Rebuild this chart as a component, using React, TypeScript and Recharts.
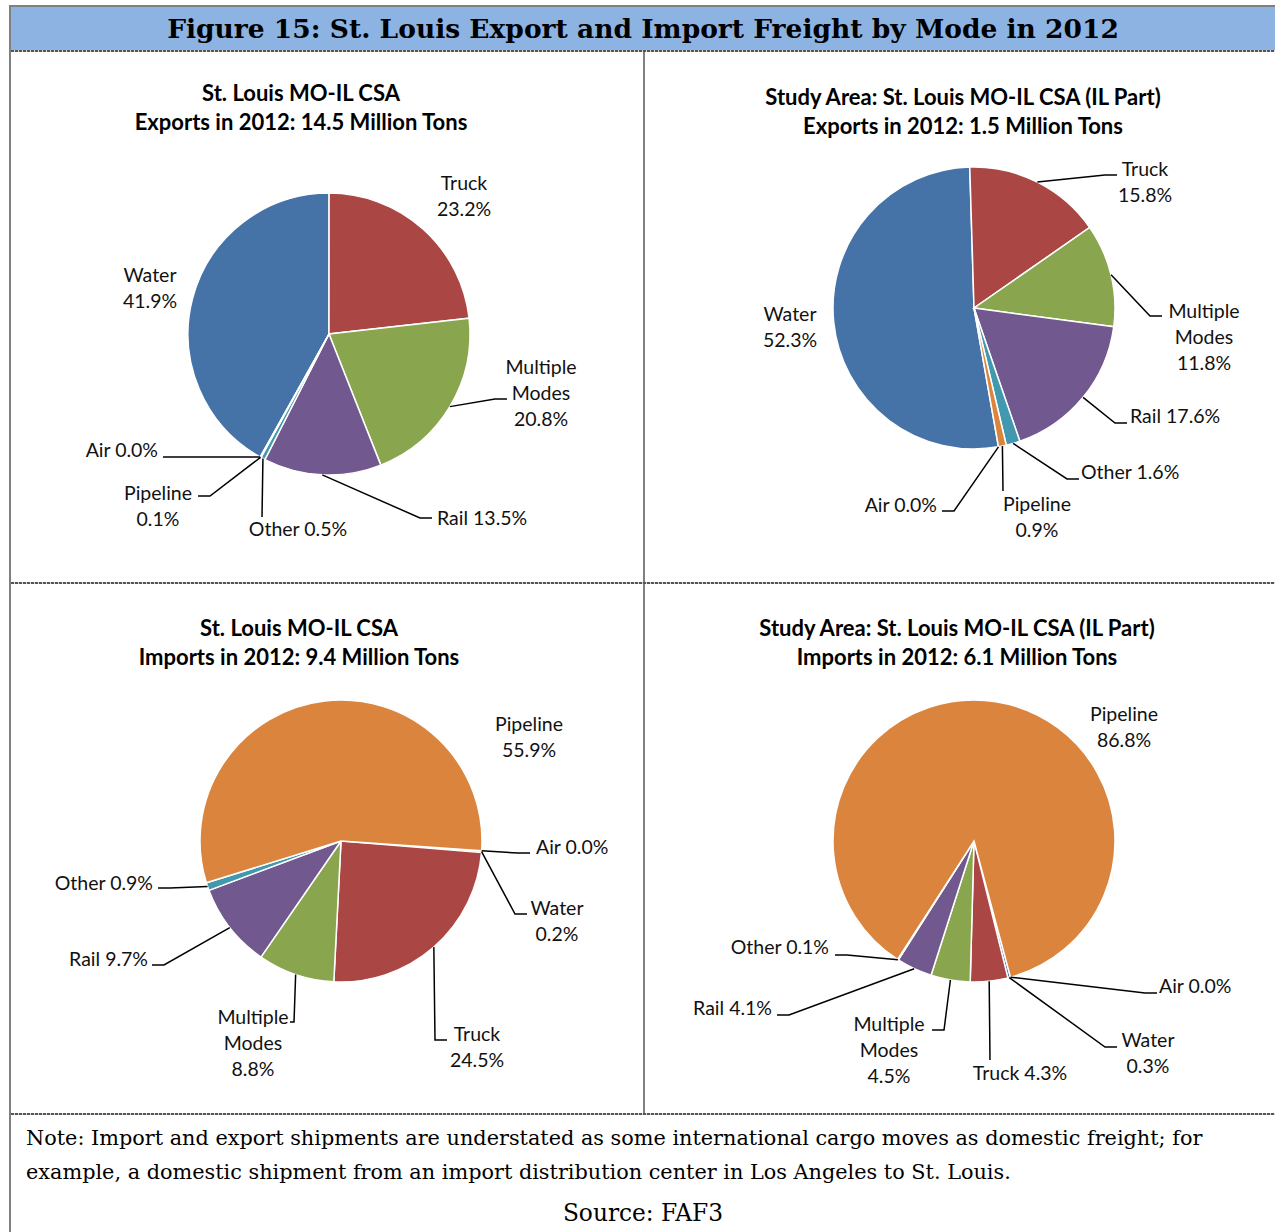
import React from "react";
import { PieChart, Pie, Cell } from "recharts";

const CATEGORIES = ["Water", "Truck", "Multiple Modes", "Rail", "Other", "Pipeline", "Air"];
const COLORS = ["#4572A7", "#AA4643", "#89A54E", "#71588F", "#4198AF", "#DB843D", "#93A9CF"];

const EXPORTS_CSA = [41.9, 23.2, 20.8, 13.5, 0.5, 0.1, 0.0];
const EXPORTS_IL = [52.3, 15.8, 11.8, 17.6, 1.6, 0.9, 0.0];
const IMPORTS_CSA = [0.2, 24.5, 8.8, 9.7, 0.9, 55.9, 0.0];
const IMPORTS_IL = [0.3, 4.3, 4.5, 4.1, 0.1, 86.8, 0.0];

const FIGURE_TITLE = "Figure 15: St. Louis Export and Import Freight by Mode in 2012";
const NOTE_LINES = [
  "Note: Import and export shipments are understated as some international cargo moves as domestic freight; for",
  "example, a domestic shipment from an import distribution center in Los Angeles to St. Louis.",
];
const SOURCE = "Source: FAF3";

const LABEL_FONT = "Lato, 'Open Sans', sans-serif";
const SERIF = "'DejaVu Serif', 'Liberation Serif', serif";
const RAD = Math.PI / 180;

// label placement, offsets from the pie centre (Excel labels were dragged by hand)
type LabelPos = {
  dx: number;
  dy: number;
  anchor: "start" | "middle" | "end";
  split?: boolean; // name and value on separate lines
  end?: [number, number]; // where the leader meets the label
  tail?: number; // horizontal elbow length
};

const layoutExportsCsa: Record<string, LabelPos> = {
  Water: { dx: -179, dy: -59, anchor: "middle", split: true },
  Truck: { dx: 135, dy: -151, anchor: "middle", split: true },
  "Multiple Modes": { dx: 212, dy: 33, anchor: "middle", split: true, end: [178, 65], tail: -12 },
  Rail: { dx: 108, dy: 184, anchor: "start", end: [103, 184], tail: -12 },
  Other: { dx: -31, dy: 195, anchor: "middle", end: [-67, 183], tail: 0 },
  Pipeline: { dx: -171, dy: 159, anchor: "middle", split: true, end: [-131, 162], tail: 12 },
  Air: { dx: -171, dy: 116, anchor: "end", end: [-166, 123], tail: 12 },
};

const layoutExportsIl: Record<string, LabelPos> = {
  Water: { dx: -184, dy: 6, anchor: "middle", split: true },
  Truck: { dx: 171, dy: -139, anchor: "middle", split: true, end: [143, -133], tail: -12 },
  "Multiple Modes": { dx: 230, dy: 3, anchor: "middle", split: true, end: [188, 8], tail: -12 },
  Rail: { dx: 156, dy: 108, anchor: "start", end: [153, 115], tail: -12 },
  Other: { dx: 107, dy: 164, anchor: "start", end: [105, 171], tail: -12 },
  Pipeline: { dx: 63, dy: 196, anchor: "middle", split: true, end: [29, 183], tail: 0 },
  Air: { dx: -37, dy: 197, anchor: "end", end: [-32, 203], tail: 12 },
};

const layoutImportsCsa: Record<string, LabelPos> = {
  Pipeline: { dx: 188, dy: -117, anchor: "middle", split: true },
  Air: { dx: 195, dy: 6, anchor: "start", end: [189, 12], tail: -12 },
  Water: { dx: 216, dy: 67, anchor: "middle", split: true, end: [186, 73], tail: -12 },
  Truck: { dx: 136, dy: 193, anchor: "middle", split: true, end: [106, 199], tail: -12 },
  "Multiple Modes": { dx: -88, dy: 176, anchor: "middle", split: true, end: [-51, 181], tail: 4 },
  Rail: { dx: -193, dy: 118, anchor: "end", end: [-189, 124], tail: 12 },
  Other: { dx: -188, dy: 42, anchor: "end", end: [-183, 47], tail: 12 },
};

const layoutImportsIl: Record<string, LabelPos> = {
  Pipeline: { dx: 150, dy: -127, anchor: "middle", split: true },
  Air: { dx: 185, dy: 145, anchor: "start", end: [183, 152], tail: -12 },
  Water: { dx: 174, dy: 199, anchor: "middle", split: true, end: [143, 206], tail: -12 },
  Truck: { dx: 46, dy: 232, anchor: "middle", end: [16, 219], tail: 0 },
  "Multiple Modes": { dx: -85, dy: 183, anchor: "middle", split: true, end: [-42, 189], tail: 12 },
  Rail: { dx: -202, dy: 167, anchor: "end", end: [-197, 174], tail: 12 },
  Other: { dx: -145, dy: 106, anchor: "end", end: [-139, 114], tail: 12 },
};

const makeLabel = (layout: Record<string, LabelPos>) => (props: any) => {
  const { cx, cy, midAngle, outerRadius, name, value } = props;
  const pos = layout[name];
  if (!pos) return null;
  const pct = `${Number(value).toFixed(1)}%`;
  let lines: string[];
  if (name === "Multiple Modes" && pos.split) lines = ["Multiple", "Modes", pct];
  else if (pos.split) lines = [name, pct];
  else lines = [`${name} ${pct}`];

  const x = cx + pos.dx;
  const y = cy + pos.dy;
  let leader = null;
  if (pos.end) {
    const ax = cx + outerRadius * Math.cos(-midAngle * RAD);
    const ay = cy + outerRadius * Math.sin(-midAngle * RAD);
    const ex = cx + pos.end[0];
    const ey = cy + pos.end[1];
    const bx = ex + (pos.tail || 0);
    leader = (
      <path
        d={`M${ax},${ay}L${bx},${ey}L${ex},${ey}`}
        fill="none"
        stroke="#000"
        strokeWidth={1.5}
      />
    );
  }
  return (
    <g>
      {leader}
      <text
        x={x}
        y={y + 7}
        textAnchor={pos.anchor}
        fontFamily={LABEL_FONT}
        fontSize={19.5}
        fill="#111"
      >
        {lines.map((l, i) => (
          <tspan key={i} x={x} dy={i === 0 ? 0 : 26}>
            {l}
          </tspan>
        ))}
      </text>
    </g>
  );
};

type PanelProps = {
  left: number;
  top: number;
  values: number[];
  start: number; // clockwise degrees from 12 o'clock where Water begins
  cx: number;
  cy: number;
  titleX: number;
  titleY: number;
  title: string[];
  layout: Record<string, LabelPos>;
};

const Panel = ({ left, top, values, start, cx, cy, titleX, titleY, title, layout }: PanelProps) => {
  const data = CATEGORIES.map((name, i) => ({ name, value: values[i] }));
  return (
    <div style={{ position: "absolute", left, top, width: 630, height: 530 }}>
      {title.map((t, i) => (
        <div
          key={i}
          style={{
            position: "absolute",
            left: titleX - 300,
            width: 600,
            top: titleY + i * 29 - 14,
            textAlign: "center",
            fontFamily: LABEL_FONT,
            fontWeight: 700,
            fontSize: 22,
            lineHeight: "28px",
            color: "#000",
          }}
        >
          {t}
        </div>
      ))}
      <div style={{ position: "absolute", left: 0, top: 0 }}>
        <PieChart width={630} height={530} margin={{ top: 0, right: 0, bottom: 0, left: 0 }}>
          <Pie
            data={data}
            dataKey="value"
            nameKey="name"
            cx={cx}
            cy={cy}
            outerRadius={141}
            startAngle={90 - start}
            endAngle={90 - start - 360}
            stroke="#fff"
            strokeWidth={1.5}
            labelLine={false}
            label={makeLabel(layout)}
            isAnimationActive={false}
          >
            {data.map((d, i) => (
              <Cell key={d.name} fill={COLORS[i]} />
            ))}
          </Pie>
        </PieChart>
      </div>
    </div>
  );
};

const dotted = {
  position: "absolute" as const,
  height: 2,
  background: "repeating-linear-gradient(90deg, #555 0 3px, #ddd 3px 4px)",
};

export default function App() {
  return (
    <div
      style={{
        position: "absolute",
        left: 0,
        top: 0,
        width: 1275,
        height: 1232,
        background: "#fff",
        overflow: "hidden",
      }}
    >
      {/* title band */}
      <div style={{ position: "absolute", left: 9, top: 5, width: 1266, height: 2, background: "#808080" }} />
      <div style={{ position: "absolute", left: 11, top: 7, width: 1264, height: 43, background: "#8DB3E2" }} />
      <div
        style={{
          position: "absolute",
          left: 11,
          width: 1264,
          top: 7,
          height: 43,
          lineHeight: "43px",
          textAlign: "center",
          fontFamily: SERIF,
          fontWeight: 700,
          fontSize: 26.5,
          color: "#000",
          whiteSpace: "nowrap",
        }}
      >
        {FIGURE_TITLE}
      </div>
      <div style={{ ...dotted, left: 11, top: 50, width: 1264 }} />

      {/* grid lines */}
      <div style={{ position: "absolute", left: 9, top: 5, width: 2, height: 1227, background: "#808080" }} />
      <div style={{ position: "absolute", left: 643, top: 52, width: 2, height: 1062, background: "#808080" }} />
      <div style={{ ...dotted, left: 11, top: 582, width: 1264 }} />
      <div style={{ ...dotted, left: 11, top: 1113, width: 1264 }} />

      <Panel
        left={11}
        top={52}
        values={EXPORTS_CSA}
        start={209.2}
        cx={318}
        cy={282}
        titleX={290}
        titleY={41}
        title={["St. Louis MO-IL CSA", "Exports in 2012: 14.5 Million Tons"]}
        layout={layoutExportsCsa}
      />
      <Panel
        left={645}
        top={52}
        values={EXPORTS_IL}
        start={170}
        cx={329}
        cy={256}
        titleX={318}
        titleY={45}
        title={["Study Area: St. Louis MO-IL CSA (IL Part)", "Exports in 2012: 1.5 Million Tons"]}
        layout={layoutExportsIl}
      />
      <Panel
        left={11}
        top={585}
        values={IMPORTS_CSA}
        start={94}
        cx={330}
        cy={256}
        titleX={288}
        titleY={43}
        title={["St. Louis MO-IL CSA", "Imports in 2012: 9.4 Million Tons"]}
        layout={layoutImportsCsa}
      />
      <Panel
        left={645}
        top={585}
        values={IMPORTS_IL}
        start={165}
        cx={329}
        cy={256}
        titleX={312}
        titleY={43}
        title={["Study Area: St. Louis MO-IL CSA (IL Part)", "Imports in 2012: 6.1 Million Tons"]}
        layout={layoutImportsIl}
      />

      {/* note */}
      <div
        style={{
          position: "absolute",
          left: 26,
          top: 1121,
          width: 1240,
          fontFamily: SERIF,
          fontSize: 20.8,
          lineHeight: "34px",
          color: "#000",
        }}
      >
        {NOTE_LINES.map((l, i) => (
          <div key={i} style={{ whiteSpace: "nowrap" }}>
            {l}
          </div>
        ))}
      </div>
      <div
        style={{
          position: "absolute",
          left: 11,
          width: 1264,
          top: 1197,
          textAlign: "center",
          fontFamily: SERIF,
          fontSize: 23.3,
          lineHeight: "32px",
          color: "#000",
        }}
      >
        {SOURCE}
      </div>
    </div>
  );
}
